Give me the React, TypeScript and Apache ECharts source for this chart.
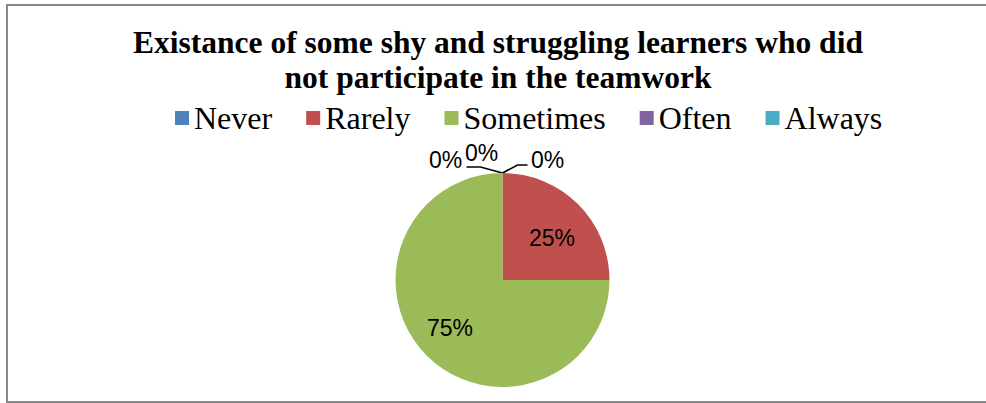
import React, { useEffect, useRef } from "react";
import * as echarts from "echarts";

const titleText = "Existance of some shy and struggling learners who did\nnot participate in the teamwork";
const categories = ["Never", "Rarely", "Sometimes", "Often", "Always"];
const values = [0, 25, 75, 0, 0];
const colors = ["#4F81BD", "#C0504D", "#9BBB59", "#8064A2", "#4BACC6"];

const CX = 502.5;
const CY = 280;
const R = 107;

// label offsets relative to pie centre (layout only)
const labelOffsets: Record<number, [number, number]> = {
  0: [45, -120],
  1: [49.5, -42],
  2: [-52.5, 48],
  3: [-57, -120],
  4: [-21, -127],
};

export default function App() {
  const ref = useRef<HTMLDivElement>(null);
  useEffect(() => {
    if (!ref.current) return;
    const chart = echarts.init(ref.current, undefined, { renderer: "svg" });
    const data = categories.map((name, i) => {
      const zero = values[i] === 0;
      return {
        name,
        value: values[i],
        itemStyle: { color: colors[i] },
        label: { position: zero ? "outside" : "inside" },
        labelLine: { show: zero && i !== 3 },
      };
    });
    chart.setOption({
      animation: false,
      backgroundColor: "#ffffff",
      title: {
        text: titleText,
        left: 498,
        textAlign: "center",
        top: 25,
        padding: 0,
        textStyle: {
          fontFamily: "Liberation Serif",
          fontWeight: "bold",
          fontSize: 31.5,
          lineHeight: 35,
          color: "#000",
        },
      },
      legend: {
        data: categories,
        left: 175,
        top: 102,
        padding: 0,
        itemGap: 34,
        itemWidth: 14,
        itemHeight: 14,
        icon: "rect",
        textStyle: {
          fontFamily: "Liberation Serif",
          fontSize: 32,
          color: "#000",
        },
      },
      graphic: [
        {
          type: "rect",
          shape: { x: 7, y: 5, width: 1000, height: 397 },
          style: { fill: "none", stroke: "#888888", lineWidth: 2 },
          silent: true,
          z: 100,
        },
      ],
      series: [
        {
          type: "pie",
          center: [CX, CY],
          radius: R,
          startAngle: 90,
          clockwise: true,
          avoidLabelOverlap: false,
          data,
          itemStyle: { borderWidth: 0 },
          label: {
            show: true,
            formatter: "{d}%",
            fontFamily: "Liberation Sans",
            fontSize: 23,
            color: "#000",
          },
          labelLine: {
            lineStyle: { color: "#000", width: 1.6 },
          },
          labelLayout: (params: any) => {
            const i = params.dataIndex;
            const off = labelOffsets[i];
            const res: any = {
              x: CX + off[0],
              y: CY + off[1],
              align: "center",
              verticalAlign: "middle",
            };
            if (i === 0) {
              res.labelLinePoints = [
                [CX, CY - R],
                [CX + 15, CY - R - 8],
                [CX + 25, CY - R - 8],
              ];
            } else if (i === 4) {
              res.labelLinePoints = [
                [CX, CY - R],
                [CX - 22, CY - R - 6],
                [CX - 36, CY - R - 6],
              ];
            }
            return res;
          },
        },
      ],
    });
    return () => chart.dispose();
  }, []);
  return (
    <div
      ref={ref}
      style={{ position: "fixed", left: 0, top: 0, width: 986, height: 403, background: "#fff" }}
    />
  );
}
